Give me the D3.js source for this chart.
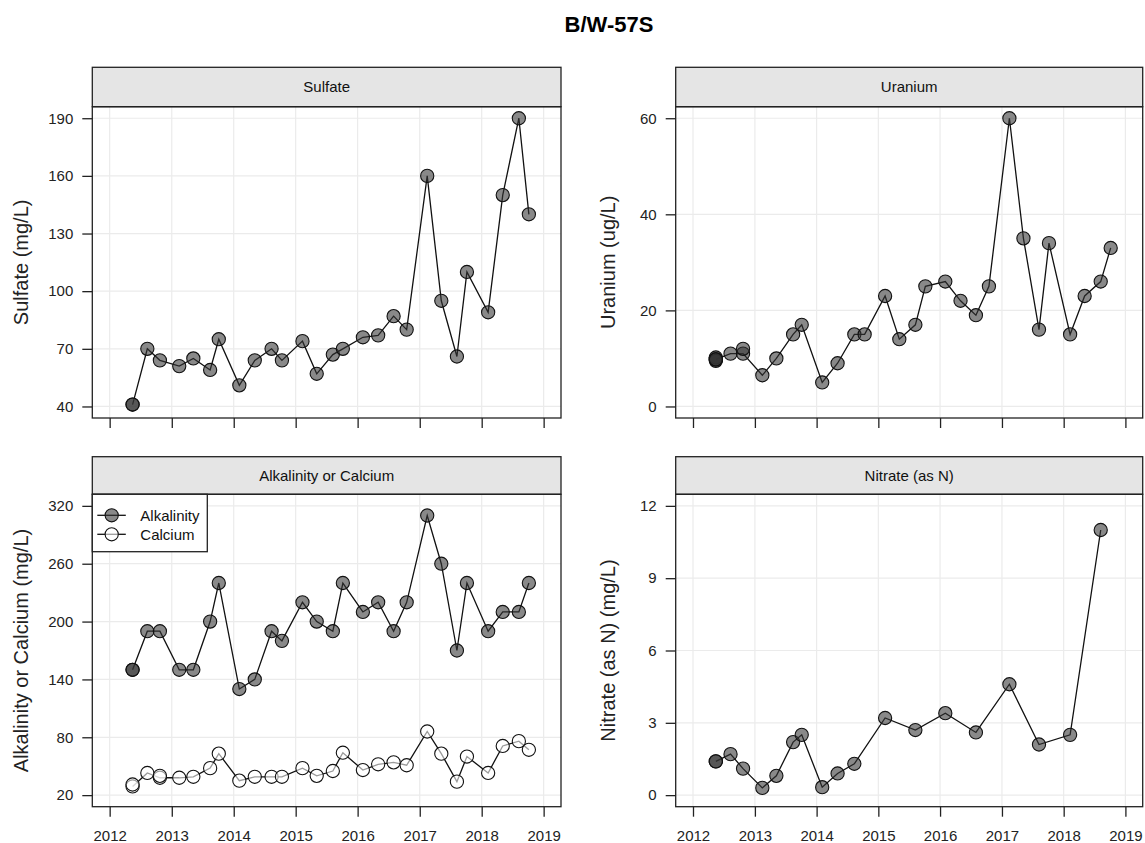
<!DOCTYPE html>
<html>
<head>
<meta charset="utf-8">
<script src="https://cdn.jsdelivr.net/npm/d3@7"></script>
<style>
  body { margin: 0; background: #fff; }
  svg { display: block; font-family: "Liberation Sans", Arial, sans-serif; }
</style>
</head>
<body>
<div id="chart"></div>
<script>
// sample dates shared by all analytes
const sampleDates = [
  "2012-05-15", "2012-08-10", "2012-10-23", "2013-02-14", "2013-05-08", "2013-08-15",
  "2013-10-05", "2014-02-03", "2014-05-05", "2014-08-12", "2014-10-12", "2015-02-10",
  "2015-05-05", "2015-08-08", "2015-10-06", "2016-02-01", "2016-05-01", "2016-07-31",
  "2016-10-16", "2017-02-14", "2017-05-08", "2017-08-08", "2017-10-06", "2018-02-08",
  "2018-05-05", "2018-08-08", "2018-10-06"
];

const sulfate = [41, 70, 64, 61, 65, 59, 75, 51, 64, 70, 64, 74, 57, 67, 70, 76, 77, 87, 80, 160, 95, 66, 110, 89, 150, 190, 140];
const uranium = [9.8, 11, 11, 6.5, 10, 15, 17, 5, 9, 15, 15, 23, 14, 17, 25, 26, 22, 19, 25, 60, 35, 16, 34, 15, 23, 26, 33];
const alkalinity = [150, 190, 190, 150, 150, 200, 240, 130, 140, 190, 180, 220, 200, 190, 240, 210, 220, 190, 220, 310, 260, 170, 240, 190, 210, 210, 240];
const calcium = [29, 43, 38, 38, 39, 48, 63, 35, 39, 39, 39, 48, 40, 45, 64, 46, 52, 54, 51, 86, 63, 34, 60, 43, 71, 76, 67];
const nitrate = [1.4, 1.7, 1.1, 0.3, 0.8, 2.2, 2.5, 0.33, 0.9, 1.3, null, 3.2, null, 2.7, null, 3.4, null, 2.6, null, 4.6, null, 2.1, null, 2.5, null, 11, null];

// replicate samples: [series, date index, value]
const replicates = [
  ["sulfate", 0, 41],
  ["uranium", 0, 10.2], ["uranium", 0, 9.5], ["uranium", 0, 9.8], ["uranium", 0, 9.8], ["uranium", 2, 12],
  ["alkalinity", 0, 150],
  ["calcium", 0, 31], ["calcium", 2, 40],
  ["nitrate", 0, 1.4]
];

const sulfateTicks = [40, 70, 100, 130, 160, 190];
const uraniumTicks = [0, 20, 40, 60];
const alkCaTicks = [20, 80, 140, 200, 260, 320];
const nitrateTicks = [0, 3, 6, 9, 12];
const yearTicks = [2012, 2013, 2014, 2015, 2016, 2017, 2018, 2019];

const seriesValues = { sulfate, uranium, alkalinity, calcium, nitrate };

const width = 1145, height = 843;
const parse = d3.timeParse("%Y-%m-%d");
const dates = sampleDates.map(parse);

const svg = d3.select("#chart").append("svg")
  .attr("width", width)
  .attr("height", height);

svg.append("text")
  .attr("x", 609)
  .attr("y", 32)
  .attr("text-anchor", "middle")
  .style("font-size", "22px")
  .style("font-weight", "bold")
  .text("B/W-57S");

const panels = [
  { title: "Sulfate", ylab: "Sulfate (mg/L)", series: ["sulfate"], ticks: sulfateTicks,
    x0: 92.3, x1: 561, top: 67.3, y0: 106.7, y1: 418, labX: 21, xLabels: false },
  { title: "Uranium", ylab: "Uranium (ug/L)", series: ["uranium"], ticks: uraniumTicks,
    x0: 675.7, x1: 1142.7, top: 67.3, y0: 106.7, y1: 418, labX: 608, xLabels: false },
  { title: "Alkalinity or Calcium", ylab: "Alkalinity or Calcium (mg/L)", series: ["alkalinity", "calcium"], ticks: alkCaTicks,
    x0: 92.3, x1: 561, top: 456.7, y0: 494.3, y1: 806.7, labX: 21, xLabels: true, legend: true },
  { title: "Nitrate (as N)", ylab: "Nitrate (as N) (mg/L)", series: ["nitrate"], ticks: nitrateTicks,
    x0: 675.7, x1: 1142.7, top: 456.7, y0: 494.3, y1: 806.7, labX: 608, xLabels: true }
];

const fills = { sulfate: "#333", uranium: "#333", alkalinity: "#333", calcium: "#fff", nitrate: "#333" };
const fillOpacity = 0.58;
const r = 6.6;

// x domain: 2012..2019 extended 4% each side
const xStart = new Date(2012, 0, 1), xEnd = new Date(2019, 0, 1);
const span = xEnd - xStart;
const xDomain = [new Date(+xStart - span * 0.04), new Date(+xEnd + span * 0.04)];

panels.forEach(p => {
  const g = svg.append("g");
  const lo = p.ticks[0], hi = p.ticks[p.ticks.length - 1];
  const pad = (hi - lo) * 0.04;

  const x = d3.scaleTime().domain(xDomain).range([p.x0, p.x1]);
  const y = d3.scaleLinear().domain([lo - pad, hi + pad]).range([p.y1, p.y0]);

  // grid
  g.append("g").selectAll("line")
    .data(yearTicks)
    .join("line")
      .attr("x1", d => x(new Date(d, 0, 1))).attr("x2", d => x(new Date(d, 0, 1)))
      .attr("y1", p.y0).attr("y2", p.y1)
      .attr("stroke", "#ebebeb").attr("stroke-width", 1.2);
  g.append("g").selectAll("line")
    .data(p.ticks)
    .join("line")
      .attr("x1", p.x0).attr("x2", p.x1)
      .attr("y1", d => y(d)).attr("y2", d => y(d))
      .attr("stroke", "#ebebeb").attr("stroke-width", 1.2);

  // strip
  g.append("rect")
    .attr("x", p.x0).attr("y", p.top)
    .attr("width", p.x1 - p.x0).attr("height", p.y0 - p.top)
    .attr("fill", "#e5e5e5").attr("stroke", "#222").attr("stroke-width", 1.3);
  g.append("text")
    .attr("x", (p.x0 + p.x1) / 2).attr("y", (p.top + p.y0) / 2 + 5)
    .attr("text-anchor", "middle")
    .style("font-size", "15px").attr("fill", "#111")
    .text(p.title);

  // axes
  const yAxis = g.append("g")
    .attr("transform", `translate(${p.x0},0)`)
    .call(d3.axisLeft(y).tickValues(p.ticks).tickSize(10).tickPadding(9));
  const xAxis = g.append("g")
    .attr("transform", `translate(0,${p.y1})`)
    .call(d3.axisBottom(x).tickValues(yearTicks.map(v => new Date(v, 0, 1)))
      .tickSize(10).tickPadding(14).tickFormat(d3.timeFormat("%Y")));
  [yAxis, xAxis].forEach(a => {
    a.select(".domain").remove();
    a.selectAll(".tick line").attr("stroke", "#222").attr("stroke-width", 1.3);
    a.selectAll(".tick text").attr("fill", "#222")
      .style("font-size", "15px").style("font-family", "Liberation Sans, Arial, sans-serif");
  });
  if (!p.xLabels) xAxis.selectAll(".tick text").remove();

  g.append("text")
    .attr("transform", `translate(${p.labX},${(p.y0 + p.y1) / 2}) rotate(-90)`)
    .attr("text-anchor", "middle")
    .attr("dy", "0.35em")
    .style("font-size", "20px").attr("fill", "#222")
    .text(p.ylab);

  const line = d3.line()
    .defined(d => d.v != null)
    .x(d => x(d.date)).y(d => y(d.v));

  p.series.forEach(s => {
    const pts = seriesValues[s].map((v, i) => ({ date: dates[i], v }));
    const valid = pts.filter(d => d.v != null);
    g.append("path")
      .datum(valid)
      .attr("d", line)
      .attr("fill", "none").attr("stroke", "#111").attr("stroke-width", 1.3);

    const reps = replicates.filter(d => d[0] === s).map(d => ({ date: dates[d[1]], v: d[2] }));
    g.append("g").selectAll("circle")
      .data(valid.concat(reps))
      .join("circle")
        .attr("cx", d => x(d.date)).attr("cy", d => y(d.v)).attr("r", r)
        .attr("fill", fills[s]).attr("fill-opacity", fillOpacity)
        .attr("stroke", "#111").attr("stroke-width", 1.1);
  });

  // plot border
  g.append("rect")
    .attr("x", p.x0).attr("y", p.y0)
    .attr("width", p.x1 - p.x0).attr("height", p.y1 - p.y0)
    .attr("fill", "none").attr("stroke", "#222").attr("stroke-width", 1.3);

  if (p.legend) {
    const lg = g.append("g");
    lg.append("rect")
      .attr("x", p.x0).attr("y", p.y0)
      .attr("width", 115).attr("height", 57.4)
      .attr("fill", "#fff").attr("stroke", "#222").attr("stroke-width", 1.3);
    const items = [["Alkalinity", "alkalinity"], ["Calcium", "calcium"]];
    items.forEach(([label, s], i) => {
      const cy = p.y0 + 21 + i * 19;
      lg.append("line")
        .attr("x1", p.x0 + 5).attr("x2", p.x0 + 33.5)
        .attr("y1", cy).attr("y2", cy)
        .attr("stroke", "#111").attr("stroke-width", 1.3);
      lg.append("circle")
        .attr("cx", p.x0 + 19.4).attr("cy", cy).attr("r", r)
        .attr("fill", fills[s]).attr("fill-opacity", fillOpacity)
        .attr("stroke", "#111").attr("stroke-width", 1.1);
      lg.append("text")
        .attr("x", p.x0 + 48).attr("y", cy + 5.5)
        .style("font-size", "15px").attr("fill", "#111")
        .text(label);
    });
  }
});
</script>
</body>
</html>
